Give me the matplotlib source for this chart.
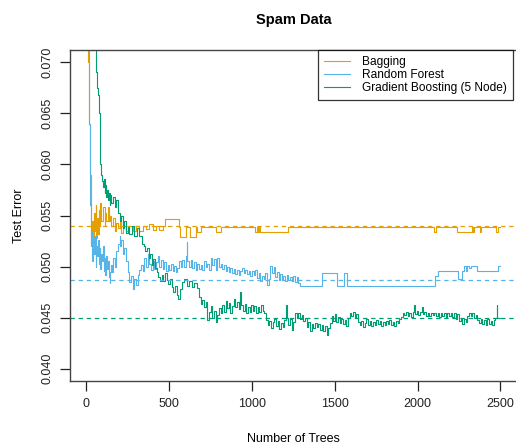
import numpy as np
import matplotlib
matplotlib.use("Agg")
import matplotlib.pyplot as plt

plt.rcParams['font.family'] = ['Liberation Sans', 'DejaVu Sans']

# Bagging test error (step breakpoints: number of trees, error)
bag_trees = [5, 10, 15, 20, 25, 30, 35, 40, 45, 50, 55, 60, 65, 70, 75, 80, 85, 90,
             100, 110, 115, 120, 130, 135, 140, 150, 160, 170, 180, 190, 200, 210,
             220, 240, 260, 280, 300, 320, 340, 360, 380, 400, 420, 440, 460, 475,
             560, 567, 600, 627, 660, 670, 690, 780, 810, 1020, 1030, 1035, 1045,
             1050, 1218, 2100, 2110, 2238, 2330, 2336, 2342, 2376, 2382, 2476,
             2484, 2497]
bag_err = [0.0800, 0.0700, 0.0640, 0.0590, 0.0555, 0.0530, 0.0545, 0.0522, 0.0552,
           0.0535, 0.0560, 0.0528, 0.0548, 0.0532, 0.0555, 0.0540, 0.0562, 0.0545,
           0.0558, 0.0540, 0.0552, 0.0545, 0.0558, 0.0545, 0.0550, 0.0540, 0.0548,
           0.0535, 0.0543, 0.0538, 0.0545, 0.0533, 0.0540, 0.0535, 0.0540, 0.0535,
           0.0540, 0.0535, 0.0540, 0.0537, 0.0542, 0.0536, 0.0540, 0.0536, 0.0540,
           0.0547, 0.0539, 0.0529, 0.0539, 0.0529, 0.0539, 0.0534, 0.0539, 0.0534,
           0.0539, 0.0534, 0.0539, 0.0534, 0.0539, 0.0534, 0.0539, 0.0534, 0.0539,
           0.0534, 0.0539, 0.0534, 0.0539, 0.0534, 0.0539, 0.0534, 0.0539, 0.0539]

# Random forest test error
rf_trees = [10, 15, 20, 25, 30, 35, 40, 45, 50, 55, 60, 65, 70, 75, 80, 85, 90, 95,
            100, 105, 110, 115, 120, 125, 130, 135, 140, 145, 150, 155, 160, 170,
            180, 190, 200, 205, 210, 220, 230, 240, 250, 260, 270, 280, 290, 300,
            310, 320, 330, 340, 350, 360, 370, 380, 390, 400, 410, 420, 430, 440,
            450, 460, 470, 480, 490, 500, 510, 520, 530, 540, 550, 560, 570, 580,
            590, 600, 605, 610, 620, 630, 640, 650, 660, 670, 680, 690, 700, 710,
            720, 730, 740, 750, 760, 770, 780, 790, 800, 810, 820, 830, 840, 850,
            860, 870, 880, 890, 900, 910, 920, 930, 940, 950, 960, 970, 980, 990,
            1000, 1010, 1020, 1030, 1040, 1050, 1060, 1070, 1080, 1090, 1100, 1110,
            1120, 1130, 1140, 1150, 1160, 1170, 1180, 1190, 1200, 1210, 1220, 1230,
            1240, 1250, 1260, 1270, 1280, 1290, 1425, 1515, 1555, 1575, 2105, 2120,
            2245, 2265, 2280, 2295, 2300, 2310, 2320, 2360, 2485, 2497]
rf_err = [0.0750, 0.0640, 0.0560, 0.0520, 0.0535, 0.0505, 0.0528, 0.0512, 0.0530,
          0.0500, 0.0520, 0.0510, 0.0526, 0.0503, 0.0518, 0.0498, 0.0512, 0.0505,
          0.0520, 0.0496, 0.0508, 0.0492, 0.0510, 0.0498, 0.0505, 0.0490, 0.0484,
          0.0495, 0.0502, 0.0495, 0.0508, 0.0500, 0.0515, 0.0522, 0.0530, 0.0520,
          0.0526, 0.0512, 0.0518, 0.0505, 0.0495, 0.0485, 0.0491, 0.0478, 0.0488,
          0.0482, 0.0492, 0.0497, 0.0502, 0.0496, 0.0508, 0.0500, 0.0512, 0.0503,
          0.0497, 0.0505, 0.0498, 0.0504, 0.0510, 0.0500, 0.0506, 0.0498, 0.0504,
          0.0496, 0.0502, 0.0497, 0.0503, 0.0496, 0.0501, 0.0495, 0.0499, 0.0505,
          0.0500, 0.0506, 0.0500, 0.0510, 0.0524, 0.0505, 0.0500, 0.0506, 0.0499,
          0.0504, 0.0497, 0.0503, 0.0498, 0.0502, 0.0497, 0.0505, 0.0500, 0.0503,
          0.0497, 0.0508, 0.0502, 0.0507, 0.0497, 0.0508, 0.0500, 0.0503, 0.0498,
          0.0502, 0.0496, 0.0500, 0.0495, 0.0499, 0.0494, 0.0498, 0.0493, 0.0497,
          0.0492, 0.0496, 0.0499, 0.0494, 0.0497, 0.0493, 0.0496, 0.0491, 0.0496,
          0.0492, 0.0497, 0.0489, 0.0494, 0.0486, 0.0491, 0.0488, 0.0494, 0.0482,
          0.0488, 0.0501, 0.0494, 0.0500, 0.0490, 0.0495, 0.0487, 0.0493, 0.0488,
          0.0491, 0.0486, 0.0492, 0.0487, 0.0490, 0.0486, 0.0491, 0.0485, 0.0490,
          0.0484, 0.0481, 0.0494, 0.0481, 0.0494, 0.0481, 0.0491, 0.0496, 0.0488,
          0.0496, 0.0501, 0.0496, 0.0501, 0.0499, 0.0501, 0.0496, 0.0501, 0.0501]

# Gradient boosting (5 node) test error
gb_trees = [50, 55, 60, 65, 70, 75, 80, 85, 90, 95, 100, 105, 110, 115, 120, 125,
            130, 135, 140, 145, 150, 160, 170, 180, 190, 200, 210, 220, 230, 240,
            250, 260, 275, 290, 305, 320, 335, 345, 355, 365, 375, 385, 395, 405,
            415, 425, 435, 445, 455, 465, 475, 485, 495, 505, 515, 525, 535, 545,
            555, 565, 575, 590, 605, 620, 635, 650, 665, 680, 690, 700, 710, 720,
            730, 740, 750, 760, 770, 780, 790, 800, 810, 820, 830, 840, 850, 860,
            870, 880, 890, 900, 910, 920, 930, 935, 945, 955, 965, 975, 985, 995,
            1005, 1015, 1025, 1035, 1045, 1055, 1065, 1075, 1085, 1095, 1105, 1115,
            1125, 1135, 1145, 1155, 1165, 1175, 1185, 1195, 1205, 1210, 1220, 1230,
            1240, 1250, 1260, 1270, 1280, 1290, 1300, 1310, 1320, 1330, 1340, 1350,
            1360, 1370, 1380, 1390, 1400, 1410, 1420, 1430, 1440, 1450, 1460, 1470,
            1480, 1490, 1500, 1510, 1520, 1530, 1540, 1550, 1560, 1570, 1580, 1590,
            1600, 1610, 1620, 1630, 1640, 1650, 1660, 1670, 1680, 1690, 1700, 1710,
            1720, 1730, 1740, 1750, 1760, 1770, 1780, 1790, 1800, 1810, 1820, 1830,
            1840, 1850, 1860, 1870, 1880, 1890, 1900, 1910, 1920, 1930, 1940, 1950,
            1960, 1970, 1980, 1985, 1995, 2005, 2015, 2025, 2030, 2040, 2050, 2060,
            2070, 2080, 2090, 2100, 2110, 2120, 2130, 2140, 2150, 2160, 2170, 2180,
            2190, 2200, 2210, 2220, 2230, 2240, 2250, 2260, 2270, 2280, 2290, 2300,
            2310, 2320, 2330, 2340, 2350, 2360, 2370, 2380, 2390, 2400, 2410, 2420,
            2430, 2440, 2450, 2460, 2470, 2478, 2482, 2497]
gb_err = [0.0760, 0.0712, 0.0690, 0.0675, 0.0668, 0.0650, 0.0630, 0.0600, 0.0590,
          0.0584, 0.0578, 0.0586, 0.0572, 0.0580, 0.0568, 0.0575, 0.0565, 0.0572,
          0.0560, 0.0570, 0.0562, 0.0568, 0.0558, 0.0565, 0.0552, 0.0545, 0.0550,
          0.0538, 0.0545, 0.0533, 0.0540, 0.0532, 0.0540, 0.0530, 0.0538, 0.0530,
          0.0522, 0.0520, 0.0515, 0.0518, 0.0508, 0.0512, 0.0502, 0.0507, 0.0499,
          0.0495, 0.0490, 0.0486, 0.0492, 0.0486, 0.0494, 0.0487, 0.0483, 0.0488,
          0.0480, 0.0475, 0.0481, 0.0472, 0.0468, 0.0478, 0.0485, 0.0488, 0.0481,
          0.0486, 0.0480, 0.0484, 0.0479, 0.0470, 0.0463, 0.0467, 0.0460, 0.0465,
          0.0448, 0.0456, 0.0461, 0.0450, 0.0457, 0.0446, 0.0453, 0.0459, 0.0455,
          0.0462, 0.0456, 0.0466, 0.0459, 0.0464, 0.0455, 0.0461, 0.0468, 0.0460,
          0.0465, 0.0458, 0.0475, 0.0462, 0.0457, 0.0463, 0.0455, 0.0460, 0.0456,
          0.0462, 0.0457, 0.0461, 0.0455, 0.0460, 0.0456, 0.0462, 0.0457, 0.0455,
          0.0448, 0.0443, 0.0447, 0.0440, 0.0446, 0.0449, 0.0442, 0.0447, 0.0439,
          0.0445, 0.0441, 0.0448, 0.0462, 0.0450, 0.0443, 0.0449, 0.0438, 0.0446,
          0.0455, 0.0450, 0.0455, 0.0449, 0.0453, 0.0447, 0.0450, 0.0441, 0.0446,
          0.0437, 0.0444, 0.0440, 0.0445, 0.0441, 0.0444, 0.0438, 0.0443, 0.0437,
          0.0442, 0.0433, 0.0440, 0.0445, 0.0452, 0.0447, 0.0454, 0.0446, 0.0451,
          0.0445, 0.0449, 0.0444, 0.0448, 0.0442, 0.0450, 0.0455, 0.0452, 0.0456,
          0.0450, 0.0454, 0.0446, 0.0443, 0.0447, 0.0441, 0.0445, 0.0449, 0.0443,
          0.0447, 0.0442, 0.0446, 0.0443, 0.0448, 0.0444, 0.0447, 0.0442, 0.0446,
          0.0443, 0.0447, 0.0444, 0.0448, 0.0443, 0.0446, 0.0442, 0.0447, 0.0445,
          0.0449, 0.0451, 0.0455, 0.0453, 0.0456, 0.0452, 0.0455, 0.0451, 0.0456,
          0.0462, 0.0454, 0.0457, 0.0453, 0.0456, 0.0460, 0.0454, 0.0456, 0.0452,
          0.0455, 0.0452, 0.0455, 0.0453, 0.0455, 0.0452, 0.0455, 0.0451, 0.0455,
          0.0452, 0.0455, 0.0451, 0.0455, 0.0452, 0.0455, 0.0451, 0.0455, 0.0449,
          0.0454, 0.0447, 0.0450, 0.0444, 0.0449, 0.0446, 0.0452, 0.0455, 0.0452,
          0.0455, 0.0450, 0.0453, 0.0448, 0.0445, 0.0449, 0.0444, 0.0448, 0.0443,
          0.0449, 0.0444, 0.0447, 0.0443, 0.0448, 0.0450, 0.0462, 0.0450, 0.0450]

# asymptotic reference levels (dashed)
bag_level = 0.05395
rf_level = 0.04873
gb_level = 0.0450

labels = ['Bagging', 'Random Forest', 'Gradient Boosting (5 Node)']
colors = ['#E69F00', '#56B4E9', '#009E73']

fig = plt.figure(figsize=(5.16, 4.46), dpi=100)
ax = fig.add_axes([70/516, 1 - 381/446, (517 - 70)/516, (381 - 50)/446])

series = [(bag_trees, bag_err), (rf_trees, rf_err), (gb_trees, gb_err)]
handles = []
for (t, e), c, lab in zip(series, colors, labels):
    h, = ax.step(t, e, where='post', color=c, lw=0.8, label=lab)
    handles.append(h)

for lev, c in zip([bag_level, rf_level, gb_level], colors):
    ax.axhline(lev, color=c, lw=0.9, ls=(0, (3.5, 3)))

ax.set_xlim(-99, 2600)
ax.set_ylim(0.0388, 0.0712)
ax.set_xticks([0, 500, 1000, 1500, 2000, 2500])
ax.set_yticks([0.040, 0.045, 0.050, 0.055, 0.060, 0.065, 0.070])
ax.set_yticklabels(['0.040', '0.045', '0.050', '0.055', '0.060', '0.065', '0.070'],
                   rotation=90, va='center')
ax.tick_params(direction='out', length=7, width=0.9, labelsize=9, pad=5,
               colors='#222222')
for s in ax.spines.values():
    s.set_color('#444444')
    s.set_linewidth(1.0)

ax.set_xlabel('Number of Trees', fontsize=9, labelpad=17)
ax.set_ylabel('Test Error', fontsize=9, labelpad=12)
ax.set_title('Spam Data', fontsize=10.5, fontweight='bold', pad=19)

leg = ax.legend(handles=handles, loc='upper right',
                bbox_to_anchor=((513 - 70)/(517 - 70), 1.0),
                fontsize=8.6, frameon=True, fancybox=False, handlelength=2.2,
                handletextpad=1.0, labelspacing=0.1, borderpad=0.5,
                borderaxespad=0)
leg.get_frame().set_edgecolor('black')
leg.get_frame().set_linewidth(0.9)

fig.savefig('out.png', dpi=100)
